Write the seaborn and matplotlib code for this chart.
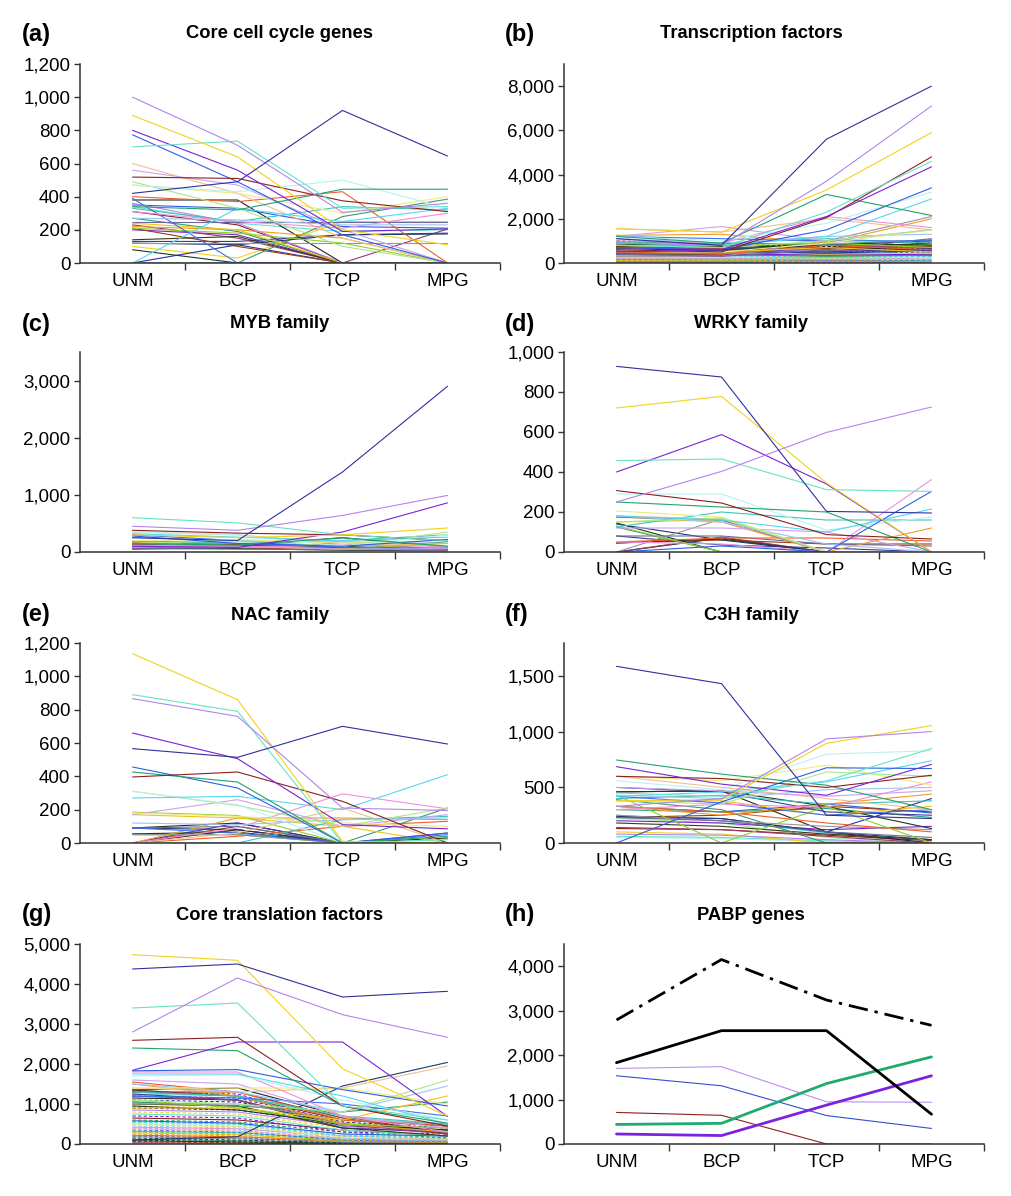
import numpy as np
import pandas as pd
import matplotlib
matplotlib.use("Agg")
import matplotlib.pyplot as plt
import seaborn as sns
from matplotlib.ticker import FuncFormatter, FixedLocator

# ---------------- data ----------------
STAGES = ["UNM", "BCP", "TCP", "MPG"]

PANEL_LABELS = ["(a)", "(b)", "(c)", "(d)", "(e)", "(f)", "(g)", "(h)"]
PANEL_TITLES = ["Core cell cycle genes", "Transcription factors", "MYB family",
                "WRKY family", "NAC family", "C3H family",
                "Core translation factors", "PABP genes"]

a_lines = [
    [420, 490, 920, 645], [1000, 710, 305, 360], [890, 640, 200, 110], [700, 735, 330, 340],
    [800, 560, 190, 205], [518, 510, 375, 310], [340, 320, 445, 445], [773, 490, 170, 0],
    [0, 330, 250, 330], [470, 430, 500, 330], [490, 330, 100, 0], [470, 420, 300, 400],
    [270, 260, 230, 230], [310, 250, 210, 300], [560, 470, 200, 0], [600, 420, 150, 0],
    [390, 0, 0, 0], [330, 250, 340, 320], [210, 180, 120, 0], [240, 200, 0, 0],
    [220, 200, 150, 0], [400, 370, 430, 0], [250, 250, 250, 250], [120, 120, 120, 120],
    [120, 110, 170, 175], [0, 0, 280, 385], [80, 0, 0, 0], [140, 160, 0, 0],
    [210, 100, 0, 0], [230, 150, 0, 205], [130, 130, 170, 180], [380, 380, 0, 0],
    [0, 110, 0, 0], [360, 240, 0, 0], [100, 30, 250, 250], [340, 240, 190, 200],
    [200, 170, 0, 0], [310, 230, 0, 0], [270, 190, 0, 0], [350, 330, 220, 210],
]

b_lines = [
    [1100, 800, 5600, 8000], [900, 800, 3700, 7100], [1550, 1400, 3300, 5900], [800, 700, 2300, 4600],
    [500, 600, 2100, 4350], [600, 500, 2050, 4800], [1200, 900, 3100, 2150], [700, 600, 1500, 3400],
    [900, 800, 1200, 2900], [1200, 1000, 1800, 3200], [800, 700, 1000, 1500], [600, 500, 900, 1500],
    [1100, 900, 1200, 1300], [1000, 900, 2100, 1600], [1200, 1650, 1000, 1500], [1550, 1400, 2000, 1500],
    [1200, 1100, 1000, 1000], [900, 900, 1100, 900], [800, 800, 900, 700], [600, 500, 700, 500],
    [1250, 1300, 900, 2000], [500, 400, 800, 600], [400, 300, 600, 1100], [300, 300, 1000, 2100],
    [600, 600, 800, 1000], [950, 900, 850, 1050], [850, 800, 700, 900], [780, 750, 900, 800],
    [720, 700, 650, 750], [680, 650, 800, 700], [650, 600, 500, 650], [600, 580, 700, 600],
    [560, 520, 450, 550], [530, 500, 600, 500], [500, 480, 400, 450], [470, 450, 500, 420],
    [450, 420, 350, 400], [420, 400, 450, 380], [400, 380, 300, 350], [380, 350, 400, 330],
    [350, 330, 250, 300], [330, 300, 350, 280], [300, 280, 200, 250], [280, 260, 300, 230],
    [260, 240, 180, 200], [240, 220, 250, 180], [220, 200, 150, 160], [200, 180, 200, 150],
    [180, 160, 120, 130], [160, 150, 180, 120], [140, 130, 100, 100], [120, 110, 150, 90],
    [100, 90, 80, 80], [80, 70, 100, 60], [60, 50, 40, 40], [40, 30, 60, 30],
    [20, 20, 10, 10], [900, 700, 600, 850], [1000, 850, 750, 650], [750, 900, 550, 600],
    [650, 500, 350, 950], [550, 600, 900, 700], [450, 400, 750, 550], [350, 450, 650, 500],
    [250, 350, 550, 450], [150, 250, 450, 600], [820, 650, 300, 200], [700, 550, 250, 150],
    [580, 450, 200, 100], [480, 350, 150, 50], [380, 250, 100, 30], [300, 200, 120, 700],
    [200, 150, 90, 500], [100, 120, 350, 300], [50, 80, 250, 200],
]

c_lines = [
    [250, 200, 1400, 2900], [450, 380, 640, 990], [300, 250, 300, 420], [600, 510, 300, 200],
    [100, 80, 350, 860], [380, 330, 300, 200], [150, 120, 250, 100], [280, 150, 100, 220],
    [320, 260, 200, 260], [350, 300, 100, 300], [150, 200, 100, 350], [200, 220, 150, 200],
    [250, 200, 180, 150], [100, 80, 120, 100], [120, 100, 50, 60], [350, 300, 150, 100],
    [300, 200, 80, 50], [200, 150, 200, 300], [80, 100, 50, 150], [150, 200, 180, 100],
    [180, 100, 50, 80], [120, 80, 60, 40], [60, 50, 40, 30], [100, 100, 60, 30],
    [50, 80, 100, 30], [180, 150, 50, 180], [80, 60, 30, 20], [130, 110, 80, 60],
    [160, 130, 80, 50], [90, 70, 50, 40], [60, 90, 150, 50], [120, 100, 250, 80],
]

d_lines = [
    [928, 875, 203, 195], [250, 403, 598, 725], [720, 778, 345, 0], [457, 465, 312, 303],
    [400, 587, 340, 0], [307, 245, 87, 65], [250, 225, 200, 0], [0, 30, 0, 303],
    [180, 160, 100, 215], [290, 290, 110, 175], [150, 170, 0, 0], [205, 175, 0, 0],
    [180, 150, 40, 0], [50, 40, 0, 362], [120, 120, 100, 0], [180, 165, 0, 0],
    [175, 160, 0, 0], [125, 200, 160, 160], [130, 0, 0, 0], [150, 160, 0, 0],
    [175, 150, 0, 120], [50, 70, 70, 55], [80, 80, 40, 30], [0, 165, 0, 0],
    [140, 60, 0, 0], [125, 0, 0, 0], [145, 0, 0, 0], [45, 65, 0, 0],
    [45, 60, 40, 40], [0, 75, 0, 0], [80, 35, 20, 0], [0, 70, 0, 0],
]

e_lines = [
    [566, 514, 700, 594], [866, 760, 210, 195], [1136, 860, 10, 0], [890, 790, 0, 20],
    [660, 506, 110, 85], [396, 426, 250, 0], [426, 366, 0, 40], [456, 330, 0, 60],
    [270, 280, 200, 410], [310, 230, 0, 0], [310, 225, 100, 210], [180, 160, 120, 100],
    [120, 110, 140, 150], [0, 90, 295, 205], [170, 260, 100, 170], [0, 60, 210, 0],
    [90, 60, 0, 50], [0, 0, 140, 160], [185, 165, 0, 0], [170, 150, 100, 0],
    [0, 150, 150, 140], [0, 40, 100, 130], [90, 100, 0, 60], [50, 50, 0, 0],
    [90, 80, 0, 0], [50, 50, 0, 210], [55, 65, 0, 30], [0, 80, 0, 0],
    [0, 100, 0, 0], [0, 80, 0, 0], [0, 120, 0, 0], [90, 120, 0, 0],
]

f_lines = [
    [1590, 1434, 250, 220], [330, 400, 937, 1003], [380, 390, 897, 1057], [450, 420, 560, 850],
    [687, 530, 430, 708], [600, 580, 500, 610], [747, 620, 520, 300], [0, 370, 677, 670],
    [420, 460, 550, 740], [560, 480, 800, 830], [380, 350, 640, 600], [600, 560, 700, 520],
    [430, 400, 480, 500], [300, 350, 320, 550], [500, 470, 420, 470], [600, 500, 400, 300],
    [420, 360, 250, 300], [400, 430, 350, 380], [430, 0, 330, 0], [380, 380, 250, 330],
    [330, 250, 350, 440], [330, 280, 180, 100], [230, 200, 100, 50], [250, 200, 150, 120],
    [240, 220, 100, 30], [390, 300, 0, 0], [460, 470, 330, 130], [180, 150, 80, 30],
    [230, 250, 330, 280], [140, 120, 60, 0], [500, 460, 280, 250], [460, 470, 100, 0],
    [230, 220, 100, 400], [80, 70, 30, 0], [100, 80, 0, 0], [60, 50, 20, 0],
    [200, 180, 120, 150], [130, 120, 70, 20], [300, 280, 310, 230], [330, 280, 350, 270],
    [250, 200, 90, 0], [50, 40, 10, 0], [220, 180, 50, 0],
]

g_lines = [
    [4375, 4500, 3675, 3817], [2800, 4150, 3233, 2667], [4733, 4592, 1883, 700], [3400, 3525, 950, 600],
    [1842, 2550, 2550, 690], [2592, 2667, 950, 450], [2400, 2333, 950, 520], [1830, 1860, 1360, 950],
    [1750, 1750, 1200, 500], [1700, 1730, 1100, 600], [1100, 1000, 800, 1600], [1400, 1400, 1400, 1000],
    [1500, 1300, 800, 1450], [1800, 1800, 700, 300], [1600, 1500, 700, 400], [1400, 1300, 1400, 1950],
    [1200, 1150, 1000, 700], [1300, 1200, 700, 500], [1100, 900, 500, 400], [900, 900, 600, 1200],
    [1500, 1200, 500, 300], [1550, 1300, 600, 450], [1300, 1200, 500, 300], [1000, 1000, 600, 500],
    [100, 180, 1450, 2040], [1050, 950, 800, 1050], [950, 850, 500, 350], [1000, 950, 400, 200],
    [1300, 1300, 650, 250], [1200, 1100, 500, 250], [1250, 1100, 400, 300], [1350, 1400, 700, 250],
    [900, 850, 500, 300], [850, 800, 450, 250], [800, 750, 400, 300], [750, 700, 350, 200],
    [700, 650, 300, 250], [650, 600, 350, 200], [600, 550, 300, 150], [580, 520, 250, 200],
    [550, 500, 200, 150], [520, 480, 250, 180], [500, 450, 200, 120], [480, 430, 180, 150],
    [450, 400, 150, 100], [420, 380, 200, 120], [400, 350, 120, 80], [380, 320, 150, 100],
    [350, 300, 100, 60], [320, 280, 120, 80], [300, 250, 80, 50], [280, 230, 100, 60],
    [250, 200, 60, 40], [220, 180, 80, 50], [200, 150, 50, 30], [180, 130, 60, 40],
    [150, 100, 30, 20], [120, 80, 40, 30], [100, 60, 20, 10], [80, 50, 30, 20],
    [60, 30, 10, 0], [30, 20, 0, 0], [1200, 1150, 550, 400], [1150, 1100, 450, 350],
    [1100, 1050, 600, 450], [1050, 950, 400, 300], [950, 900, 550, 350], [1250, 1200, 650, 500],
    [1300, 1250, 500, 400], [1350, 1200, 600, 450], [550, 500, 200, 200],
]

h_dashdot_total = [2790, 4150, 3240, 2670]
h_black = [1830, 2550, 2550, 670]
h_lavender = [1700, 1740, 950, 940]
h_blue = [1535, 1310, 640, 350]
h_darkred = [710, 645, 0, 0]
h_green = [440, 465, 1360, 1960]
h_purple = [225, 190, 875, 1535]

# ---------------- style ----------------
PALETTE = ['#2f2f9f', '#b384ee', '#f2d21b', '#66e3c6', '#7b22d8', '#8c1f1f', '#23a16f', '#2b5fe3',
           '#55d8ee', '#b8f2ef', '#a8e88c', '#eeea80', '#9fc3f2', '#f08fd8', '#c9a3f2', '#f2c08f',
           '#3f6ff2', '#3fc2bb', '#92d02a', '#f2c21b', '#f29a2a', '#ef5f2a', '#6b6b9b', '#979797',
           '#1b3b6b', '#3b9b6b', '#1b3b1b', '#3b3b12', '#9b3b12', '#9b3b6b', '#3b3b9b', '#262626']

sns.set_theme(style="white")
plt.rcParams['font.family'] = ['Liberation Sans', 'DejaVu Sans']
plt.rcParams['text.color'] = 'black'
plt.rcParams['xtick.color'] = 'black'
plt.rcParams['ytick.color'] = 'black'
plt.rcParams['axes.labelcolor'] = 'black'

W, H = 1012, 1196
fig = plt.figure(figsize=(W / 100, H / 100), dpi=100)

LEFT_X = [80, 564]
ROWS = [(64, 263), (352, 552), (643, 843), (944, 1144)]
AX_W = 420

YLIMS = [1200, 9000, 3500, 1000, 1200, 1800, 5000, 4500]
YTICKS = [np.arange(0, 1201, 200), np.arange(0, 8001, 2000), np.arange(0, 3001, 1000),
          np.arange(0, 1001, 200), np.arange(0, 1201, 200), np.arange(0, 1501, 500),
          np.arange(0, 5001, 1000), np.arange(0, 4001, 1000)]

DASH_START = {1: 40, 6: 32}
LABEL_Y = [34, 324, 615, 915]
LABEL_X = [22, 505]
TITLE_X = [280, 751]


def make_ax(i):
    r, c = divmod(i, 2)
    top, bot = ROWS[r]
    ax = fig.add_axes([LEFT_X[c] / W, 1 - bot / H, AX_W / W, (bot - top) / H])
    return ax


def long_df(lines):
    recs = []
    for gi, vals in enumerate(lines):
        for s, v in zip(STAGES, vals):
            recs.append({"gene": f"g{gi}", "stage": s, "expr": v})
    return pd.DataFrame(recs)


def style_ax(ax, i):
    ax.set_xlim(-0.5, 3.5)
    ax.set_ylim(0, YLIMS[i])
    ax.set_xticks(range(4))
    ax.set_xticklabels(STAGES)
    ax.xaxis.set_minor_locator(FixedLocator([0.5, 1.5, 2.5, 3.5]))
    ax.tick_params(axis='x', which='major', length=0, pad=7, labelsize=13.5, labelcolor='black')
    ax.tick_params(axis='x', which='minor', length=5, width=1, color='#333333', direction='out', bottom=True)
    ax.set_yticks(YTICKS[i])
    ax.yaxis.set_major_formatter(FuncFormatter(lambda v, p: f"{v:,.0f}"))
    ax.tick_params(axis='y', length=4, width=1, color='#333333', direction='out', left=True, pad=3,
                   labelsize=13.5, labelcolor='black')
    for sp in ['top', 'right']:
        ax.spines[sp].set_visible(False)
    for sp in ['left', 'bottom']:
        ax.spines[sp].set_color('#333333')
        ax.spines[sp].set_linewidth(1.1)
    ax.set_xlabel("")
    ax.set_ylabel("")
    ax.set_facecolor('white')
    r, c = divmod(i, 2)
    fig.text(LABEL_X[c] / W, 1 - LABEL_Y[r] / H, PANEL_LABELS[i], ha='left', va='center',
             fontsize=17, fontweight='bold', color='black')
    fig.text(TITLE_X[c] / W, 1 - LABEL_Y[r] / H, PANEL_TITLES[i], ha='center', va='center',
             fontsize=13.2, fontweight='bold', color='black')


panels = [a_lines, b_lines, c_lines, d_lines, e_lines, f_lines, g_lines]
for i, lines in enumerate(panels):
    ax = make_ax(i)
    df = long_df(lines)
    genes = [f"g{k}" for k in range(len(lines))]
    pal = {g: PALETTE[k % len(PALETTE)] for k, g in enumerate(genes)}
    ds = DASH_START.get(i, 10 ** 6)
    dashes = {g: ((3, 2) if (k >= ds and k % 2 == 0) else "") for k, g in enumerate(genes)}
    # draw in reverse so the first (prominent) series sit on top
    df["order"] = df["gene"].map({g: k for k, g in enumerate(genes)})
    df = df.sort_values("order", ascending=False, kind="stable")
    sns.lineplot(data=df, x="stage", y="expr", hue="gene", style="gene",
                 hue_order=genes[::-1], style_order=genes[::-1],
                 palette=pal, dashes=dashes, estimator=None, sort=False,
                 linewidth=0.8, legend=False, ax=ax)
    style_ax(ax, i)

# panel (h)
ax = make_ax(7)
h_series = [
    (h_darkred, '#8c1f1f', 0.8, '-'),
    (h_blue, '#3050d0', 0.8, '-'),
    (h_lavender, '#b890f0', 0.8, '-'),
    (h_purple, '#7b22e0', 2.0, '-'),
    (h_green, '#1faa6e', 2.0, '-'),
    (h_black, '#000000', 2.0, '-'),
]
for vals, col, lw, ls in h_series:
    sns.lineplot(x=STAGES, y=vals, color=col, linewidth=lw, linestyle=ls, sort=False, ax=ax)
ln = sns.lineplot(x=STAGES, y=h_dashdot_total, color='#000000', linewidth=2.0, sort=False, ax=ax)
ln.lines[-1].set_dashes((7, 2.5, 1.2, 2.5))
style_ax(ax, 7)

fig.savefig("out.png", dpi=100, facecolor='white')
